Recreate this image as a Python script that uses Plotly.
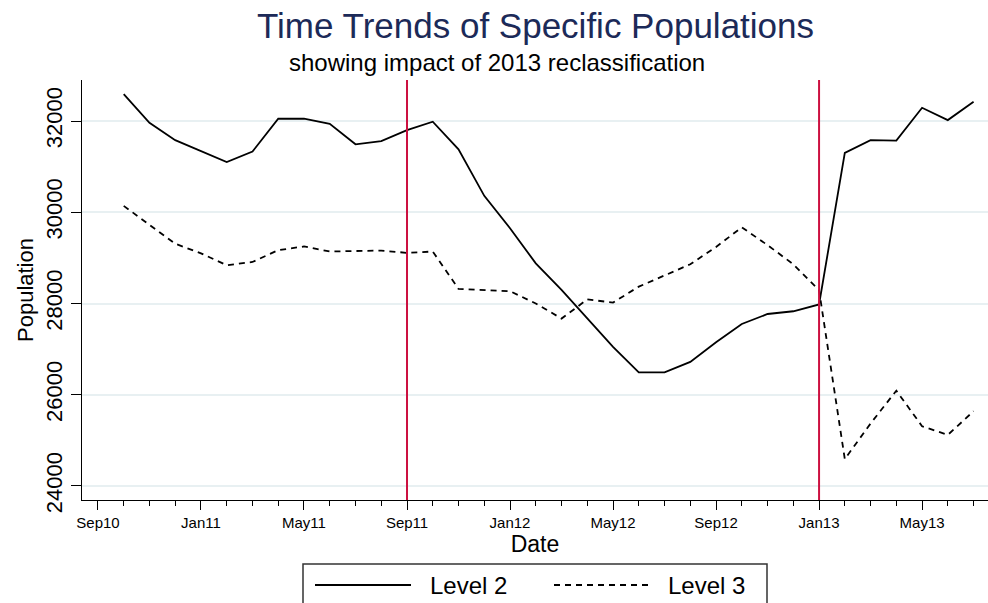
import plotly.graph_objects as go

# Monthly observation dates (Oct 2010 - Jul 2013)
months = [
    "2010-10", "2010-11", "2010-12",
    "2011-01", "2011-02", "2011-03", "2011-04", "2011-05", "2011-06",
    "2011-07", "2011-08", "2011-09", "2011-10", "2011-11", "2011-12",
    "2012-01", "2012-02", "2012-03", "2012-04", "2012-05", "2012-06",
    "2012-07", "2012-08", "2012-09", "2012-10", "2012-11", "2012-12",
    "2013-01", "2013-02", "2013-03", "2013-04", "2013-05", "2013-06",
    "2013-07",
]

level2 = [
    32590, 31960, 31580,
    31340, 31100, 31330, 32050, 32050, 31940,
    31490, 31560, 31800, 31985, 31380, 30360,
    29650, 28880, 28300, 27680, 27050, 26490,
    26490, 26720, 27150, 27550, 27770, 27830,
    27980, 31300, 31580, 31570, 32290, 32020,
    32420,
]

level3 = [
    30140, 29720, 29310,
    29100, 28840, 28910, 29170, 29250, 29140,
    29150, 29160, 29110, 29140, 28320, 28300,
    28270, 28000, 27670, 28090, 28020, 28370,
    28620, 28860, 29240, 29670, 29280, 28860,
    28290, 24590, 25370, 26090, 25310, 25120,
    25640,
]

# Major x-axis ticks and the reclassification markers
tick_months = ["2010-09", "2011-01", "2011-05", "2011-09", "2012-01",
               "2012-05", "2012-09", "2013-01", "2013-05"]
tick_labels = ["Sep10", "Jan11", "May11", "Sep11", "Jan12",
               "May12", "Sep12", "Jan13", "May13"]
event_months = ["2011-09", "2013-01"]

y_ticks = [24000, 26000, 28000, 30000, 32000]


def month_index(ym):
    """Months elapsed since Sep 2010."""
    y, m = ym.split("-")
    return (int(y) - 2010) * 12 + int(m) - 9


x_vals = [month_index(m) for m in months]

W, H = 988, 603
L, R, T, B = 82, 0, 80, 103
PW, PH = W - L - R, H - T - B


def px(x):
    return (x - L) / PW


def py(y):
    return (H - B - y) / PH


FONT = "Liberation Sans, Arial, Helvetica, sans-serif"
NAVY = "#1c2a58"
RED = "#cc1040"

fig = go.Figure()
fig.add_trace(go.Scatter(x=x_vals, y=level2, mode="lines", name="Level 2",
                         line=dict(color="black", width=1.8)))
fig.add_trace(go.Scatter(x=x_vals, y=level3, mode="lines", name="Level 3",
                         line=dict(color="black", width=1.8, dash="6px,5px")))

shapes = []
for em in event_months:
    shapes.append(dict(type="line", xref="x", yref="paper",
                       x0=month_index(em), x1=month_index(em), y0=0, y1=1,
                       line=dict(color=RED, width=2)))

# Legend box drawn below the plot
shapes.append(dict(type="rect", xref="paper", yref="paper",
                   x0=px(303), x1=px(767), y0=py(564), y1=py(625),
                   line=dict(color="#333333", width=1.5), fillcolor="white"))
shapes.append(dict(type="line", xref="paper", yref="paper",
                   x0=px(315), x1=px(411), y0=py(585), y1=py(585),
                   line=dict(color="black", width=1.8)))
shapes.append(dict(type="line", xref="paper", yref="paper",
                   x0=px(554), x1=px(652), y0=py(585), y1=py(585),
                   line=dict(color="black", width=1.8, dash="6px,5px")))

annotations = [
    dict(text="Time Trends of Specific Populations", xref="paper", yref="paper",
         x=px(535), y=py(25), showarrow=False, xanchor="center", yanchor="middle",
         font=dict(family=FONT, size=35, color=NAVY)),
    dict(text="showing impact of 2013 reclassification", xref="paper", yref="paper",
         x=px(497), y=py(63), showarrow=False, xanchor="center", yanchor="middle",
         font=dict(family=FONT, size=24, color="black")),
    dict(text="Level 2", xref="paper", yref="paper", x=px(428), y=py(585),
         showarrow=False, xanchor="left", yanchor="middle",
         font=dict(family=FONT, size=24, color="black")),
    dict(text="Level 3", xref="paper", yref="paper", x=px(666), y=py(585),
         showarrow=False, xanchor="left", yanchor="middle",
         font=dict(family=FONT, size=24, color="black")),
]

fig.update_layout(
    width=W, height=H,
    margin=dict(l=L, r=R, t=T, b=B, autoexpand=False),
    paper_bgcolor="white", plot_bgcolor="white",
    showlegend=False,
    shapes=shapes,
    annotations=annotations,
    font=dict(family=FONT, color="black"),
)

fig.update_xaxes(
    range=[-0.62, 34.56],
    tickmode="array",
    tickvals=[month_index(m) for m in tick_months],
    ticktext=tick_labels,
    ticks="outside", ticklen=9, tickwidth=1.3, tickcolor="black",
    minor=dict(tickmode="linear", tick0=0, dtick=1, ticks="outside",
               ticklen=5, tickwidth=1.3, tickcolor="black", showgrid=False),
    tickfont=dict(family=FONT, size=15, color="black"),
    showgrid=False, zeroline=False,
    showline=True, linecolor="black", linewidth=1.3,
    title=dict(text="Date", font=dict(family=FONT, size=23, color="black"),
               standoff=1),
)

fig.update_yaxes(
    range=[23693, 32899],
    tickmode="array", tickvals=y_ticks, ticktext=[str(v) for v in y_ticks],
    tickangle=-90,
    ticks="outside", ticklen=10, tickwidth=1.3, tickcolor="black",
    ticklabelstandoff=0,
    tickfont=dict(family=FONT, size=22, color="black"),
    showgrid=True, gridcolor="#e8f0f2", gridwidth=1.5,
    zeroline=False,
    showline=True, linecolor="black", linewidth=1.3,
    title=dict(text="Population", font=dict(family=FONT, size=22, color="black"),
               standoff=2),
)

fig.write_html("out.html")
